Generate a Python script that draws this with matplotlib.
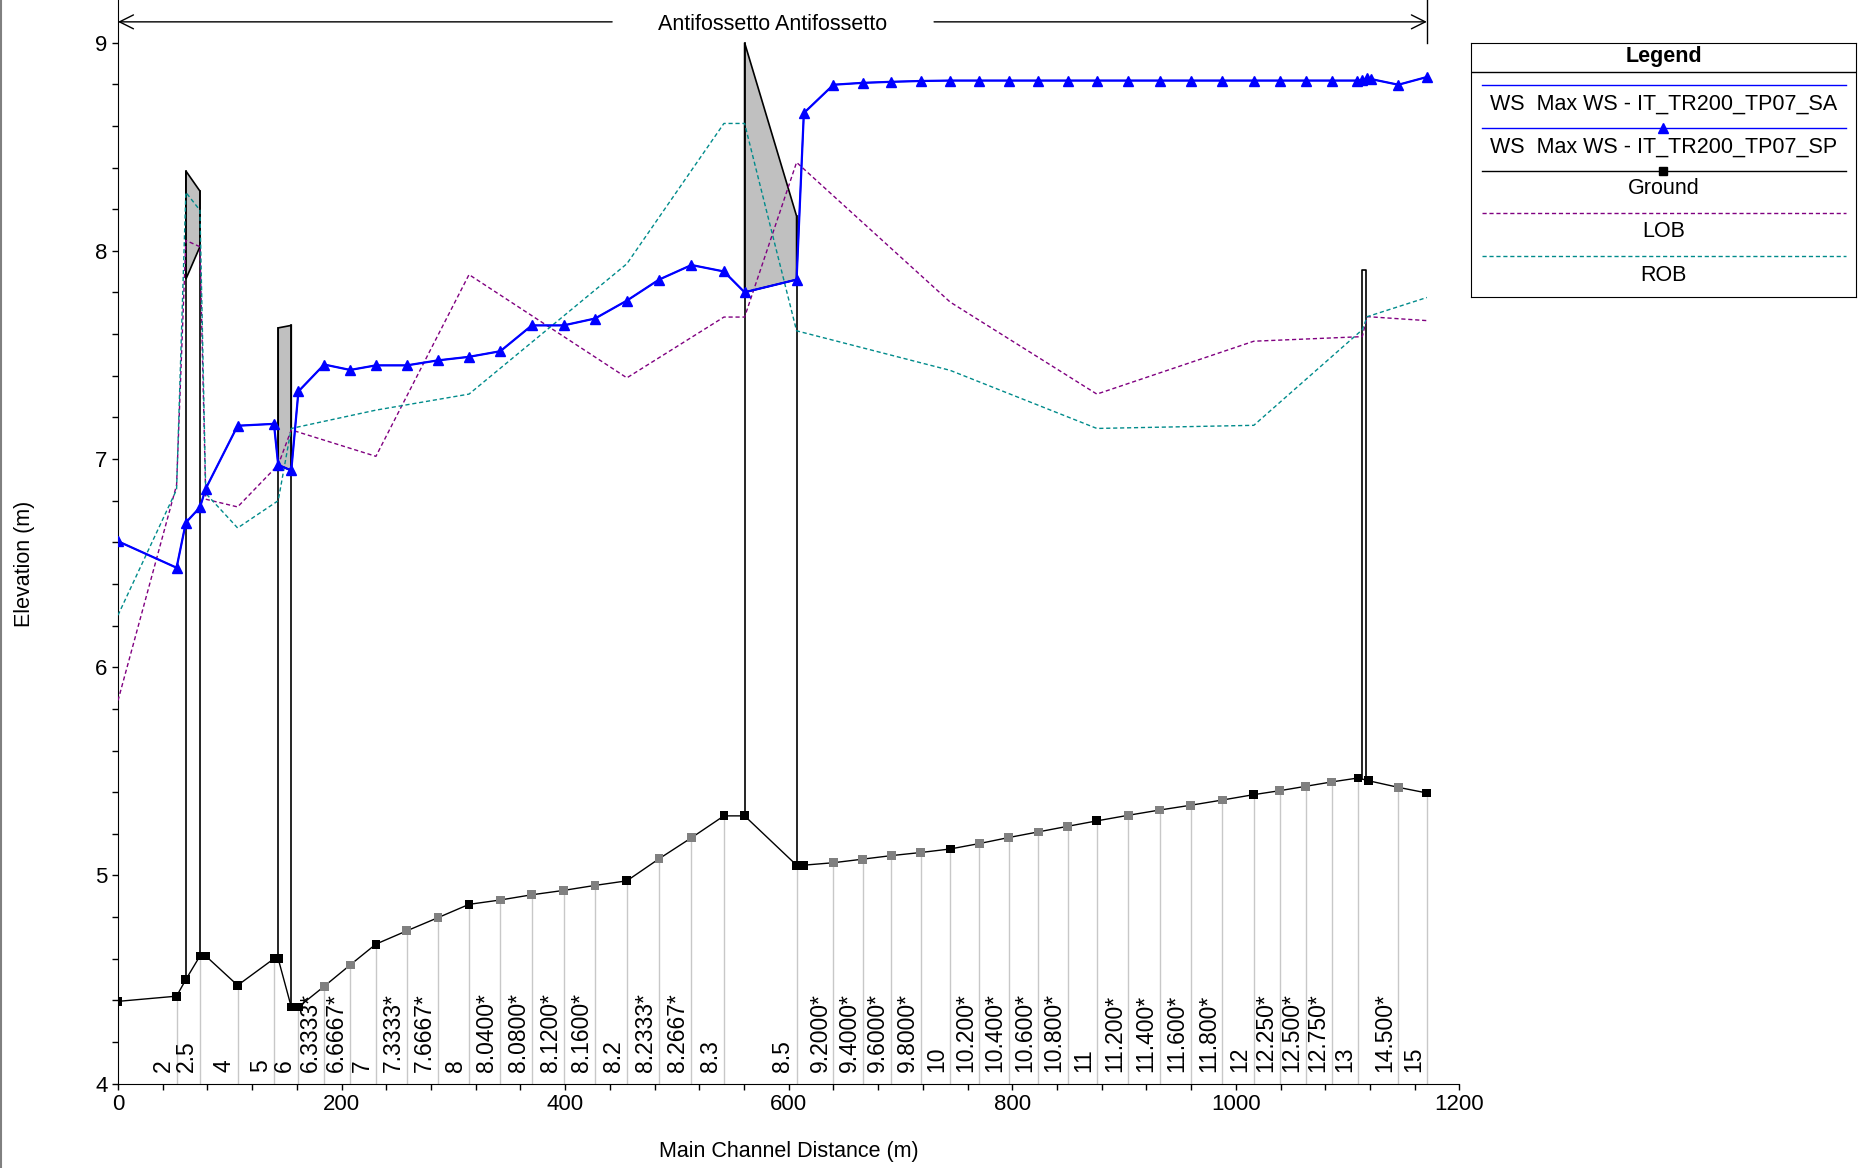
import numpy as np
import matplotlib
matplotlib.use("Agg")
import matplotlib.pyplot as plt
from matplotlib.lines import Line2D

plt.rcParams['font.family'] = ['Liberation Sans', 'DejaVu Sans']

# ground profile (main channel distance, elevation) and river station labels
ground_x = [0, 52.4, 60.7, 73.3, 78.5, 107, 139.5, 143.3, 155, 161.4, 184.4, 207.7,
            230.7, 258.4, 286.2, 314, 342, 370.2, 398.6, 426.7, 455.2, 484, 513, 542,
            560.5, 607, 613, 640, 666, 691.6, 718, 744.4, 770.4, 796.8, 823.2, 849.6,
            875.6, 903.9, 931.7, 959.5, 987.7, 1016, 1039.2, 1062.4, 1085.6, 1109.3,
            1118.4, 1145.3, 1170.8]
ground_z = [4.395, 4.42, 4.50, 4.613, 4.613, 4.472, 4.60, 4.60, 4.368, 4.368, 4.467, 4.57,
            4.67, 4.734, 4.797, 4.861, 4.882, 4.907, 4.928, 4.952, 4.974, 5.08, 5.181, 5.286,
            5.286, 5.049, 5.049, 5.061, 5.078, 5.095, 5.11, 5.127, 5.153, 5.182, 5.209, 5.236,
            5.262, 5.289, 5.314, 5.337, 5.362, 5.388, 5.407, 5.428, 5.449, 5.468,
            5.455, 5.423, 5.396]
stations = ["", "2", "", "2.5", "", "4", "5", "", "", "6", "6.3333*", "6.6667*",
            "7", "7.3333*", "7.6667*", "8", "8.0400*", "8.0800*", "8.1200*", "8.1600*", "8.2",
            "8.2333*", "8.2667*", "8.3", "", "8.5", "", "9.2000*", "9.4000*", "9.6000*",
            "9.8000*", "10", "10.200*", "10.400*", "10.600*", "10.800*", "11", "11.200*",
            "11.400*", "11.600*", "11.800*", "12", "12.250*", "12.500*", "12.750*", "13",
            "", "14.500*", "15"]

# water surface
ws_x = [0, 52.4, 60.7, 73.3, 78.5, 107, 139.5, 143.3, 155, 161.4, 184.4, 207.7, 230.7,
        258.4, 286.2, 314, 342, 370.2, 398.6, 426.7, 455.2, 484, 513, 542, 560.5, 607,
        613.5, 640, 666, 691.6, 718, 744.4, 770.4, 796.8, 823.2, 849.6, 875.6, 903.9,
        931.7, 959.5, 987.7, 1016, 1039.2, 1062.4, 1085.6, 1108.5, 1113, 1117.5, 1121,
        1145.3, 1170.8]
ws_sp = [6.605, 6.478, 6.695, 6.768, 6.858, 7.16, 7.169, 6.972, 6.945, 7.325, 7.454, 7.428,
         7.45, 7.45, 7.474, 7.491, 7.518, 7.642, 7.642, 7.675, 7.761, 7.862, 7.932, 7.901,
         7.801, 7.862, 8.662, 8.798, 8.807, 8.812, 8.816, 8.818, 8.818, 8.818, 8.818, 8.818,
         8.818, 8.818, 8.818, 8.818, 8.818, 8.818, 8.818, 8.818, 8.818, 8.818, 8.82, 8.83,
         8.825, 8.798, 8.835]
ws_sa = list(ws_sp)

# left / right overbank
lob_x = [0, 52.4, 60.7, 73.3, 78.5, 107, 143.3, 155, 230.7, 314, 455.2, 542, 560.5,
         607, 744.4, 875.6, 1016, 1113, 1117.5, 1170.8]
lob_z = [5.84, 6.875, 8.05, 8.02, 6.807, 6.77, 6.972, 7.14, 7.013, 7.886, 7.39, 7.682, 7.682,
         8.425, 7.754, 7.312, 7.566, 7.588, 7.684, 7.665]
rob_x = [0, 52.4, 60.7, 73.3, 78.5, 107, 143.3, 155, 230.7, 314, 455.2, 542, 560.5,
         607, 744.4, 875.6, 1016, 1113, 1117.5, 1170.8]
rob_z = [6.25, 6.853, 8.281, 8.195, 6.835, 6.669, 6.80, 7.147, 7.235, 7.312, 7.938, 8.612,
         8.612, 7.616, 7.426, 7.147, 7.162, 7.621, 7.684, 7.776]

# structures: (x start, x end), high chord, low chord
bridge_x = [(60.7, 73.3), (143.3, 155), (560.5, 607)]
bridge_hi = [(8.384, 8.287), (7.63, 7.642), (9.0, 8.167)]
bridge_lo = [(7.864, 8.02), (6.972, 6.945), (7.801, 7.862)]
weir_x = (1113, 1116.7)
weir_top = 7.91

reach_name = "Antifossetto Antifossetto"

W, H = 1865, 1168
fig = plt.figure(figsize=(W / 100, H / 100), dpi=100)
ax = fig.add_axes([118 / W, 1 - 1083.6 / H, (1459.5 - 118) / W, 1083.6 / H])

gx = np.array(ground_x)
gz = np.array(ground_z)

# station lines
lab_idx = [i for i, s in enumerate(stations) if s]
ax.vlines(gx[lab_idx], 4, gz[lab_idx], color='#c8c8c8', lw=1, zorder=1)
for i in lab_idx:
    ax.annotate(stations[i], (gx[i], 4), xytext=(-1.5, 8), textcoords='offset points',
                rotation=90, ha='right', va='bottom', fontsize=16.5, zorder=2)

# bridges
for (x0, x1), (h0, h1), (l0, l1) in zip(bridge_x, bridge_hi, bridge_lo):
    ax.fill([x0, x1, x1, x0], [h0, h1, l1, l0], facecolor='#c0c0c0',
            edgecolor='black', lw=1.2, zorder=3)
    g0, g1 = np.interp([x0, x1], gx, gz)
    ax.plot([x0, x0], [g0, h0], color='black', lw=1.2, zorder=3)
    ax.plot([x1, x1], [g1, h1], color='black', lw=1.2, zorder=3)

wg0, wg1 = np.interp(weir_x, gx, gz)
ax.plot([weir_x[0], weir_x[0], weir_x[1], weir_x[1]], [wg0, weir_top, weir_top, wg1],
        color='black', lw=1.2, zorder=3)

ax.plot(lob_x, lob_z, color='#800080', lw=1, ls=(0, (3, 2)), zorder=4)
ax.plot(rob_x, rob_z, color='#008b8b', lw=1, ls=(0, (3, 2)), zorder=4)

ax.plot(ws_x, ws_sa, color='#0000ff', lw=1, zorder=5)
ax.plot(ws_x, ws_sp, color='#0000ff', lw=1.6, marker='^', ms=7, zorder=6)

mcol = ['#808080' if s.endswith('*') else 'black' for s in stations]
ax.plot(gx, gz, color='black', lw=1, zorder=7)
ax.scatter(gx, gz, marker='s', s=40, c=mcol, zorder=8, linewidths=0)

# reach arrow
yr = 9.1
arr = dict(arrowstyle='->, head_length=0.5, head_width=0.25', lw=1, color='black',
           shrinkA=0, shrinkB=0, mutation_scale=20)
ax.annotate('', xy=(0, yr), xytext=(442, yr), arrowprops=arr, annotation_clip=False)
ax.annotate('', xy=(gx[-1], yr), xytext=(730, yr), arrowprops=arr, annotation_clip=False)
ax.text((0 + gx[-1]) / 2, yr, reach_name, ha='center', va='center_baseline', fontsize=15.5)
ax.plot([gx[-1], gx[-1]], [9.0, 9.205], color='black', lw=1, clip_on=False)

ax.set_xlim(0, 1200)
ax.set_ylim(4, 9.205)
ax.set_xticks(np.arange(0, 1201, 200))
ax.set_xticks(np.arange(0, 1201, 40), minor=True)
ax.set_yticks(np.arange(4, 10, 1))
ax.set_yticks(np.arange(4, 9.2, 0.2), minor=True)
ax.tick_params(which='both', direction='out', length=4, width=1, labelsize=16)
for s in ['top', 'right']:
    ax.spines[s].set_visible(False)
ax.set_xlabel("Main Channel Distance (m)", fontsize=15.5)
ax.set_ylabel("Elevation (m)", fontsize=15.5)
ax.xaxis.set_label_coords(0.5, -0.053)
ax.yaxis.set_label_coords(-0.062, 0.48)

# legend box
lax = fig.add_axes([1471 / W, 1 - 297 / H, 385 / W, 254.2 / H])
lax.set_xlim(0, 1)
lax.set_ylim(0, 1)
lax.set_xticks([])
lax.set_yticks([])
lax.text(0.5, 0.948, "Legend", ha='center', va='center', fontsize=15.5, fontweight='bold')
lax.plot([0, 1], [0.884, 0.884], color='black', lw=1)
entries = [
    ("WS  Max WS - IT_TR200_TP07_SA", dict(color='#0000ff', lw=1)),
    ("WS  Max WS - IT_TR200_TP07_SP", dict(color='#0000ff', lw=1, marker='^', ms=7, markevery=[1])),
    ("Ground", dict(color='black', lw=1, marker='s', ms=6, markevery=[1])),
    ("LOB", dict(color='#800080', lw=1, ls=(0, (3, 2)))),
    ("ROB", dict(color='#008b8b', lw=1, ls=(0, (3, 2)))),
]
line_y = [0.834, 0.664, 0.497, 0.332, 0.161]
text_y = [0.759, 0.591, 0.425, 0.257, 0.086]
for (lab, st), ly, ty in zip(entries, line_y, text_y):
    lax.plot([0.028, 0.5, 0.974], [ly, ly, ly], **st)
    lax.text(0.5, ty, lab, ha='center', va='center', fontsize=15.5)

fig.add_artist(Line2D([0.0006, 0.0006], [0.0, 1.0], color='#808080', lw=1.5))

fig.savefig("out.png", dpi=100)
